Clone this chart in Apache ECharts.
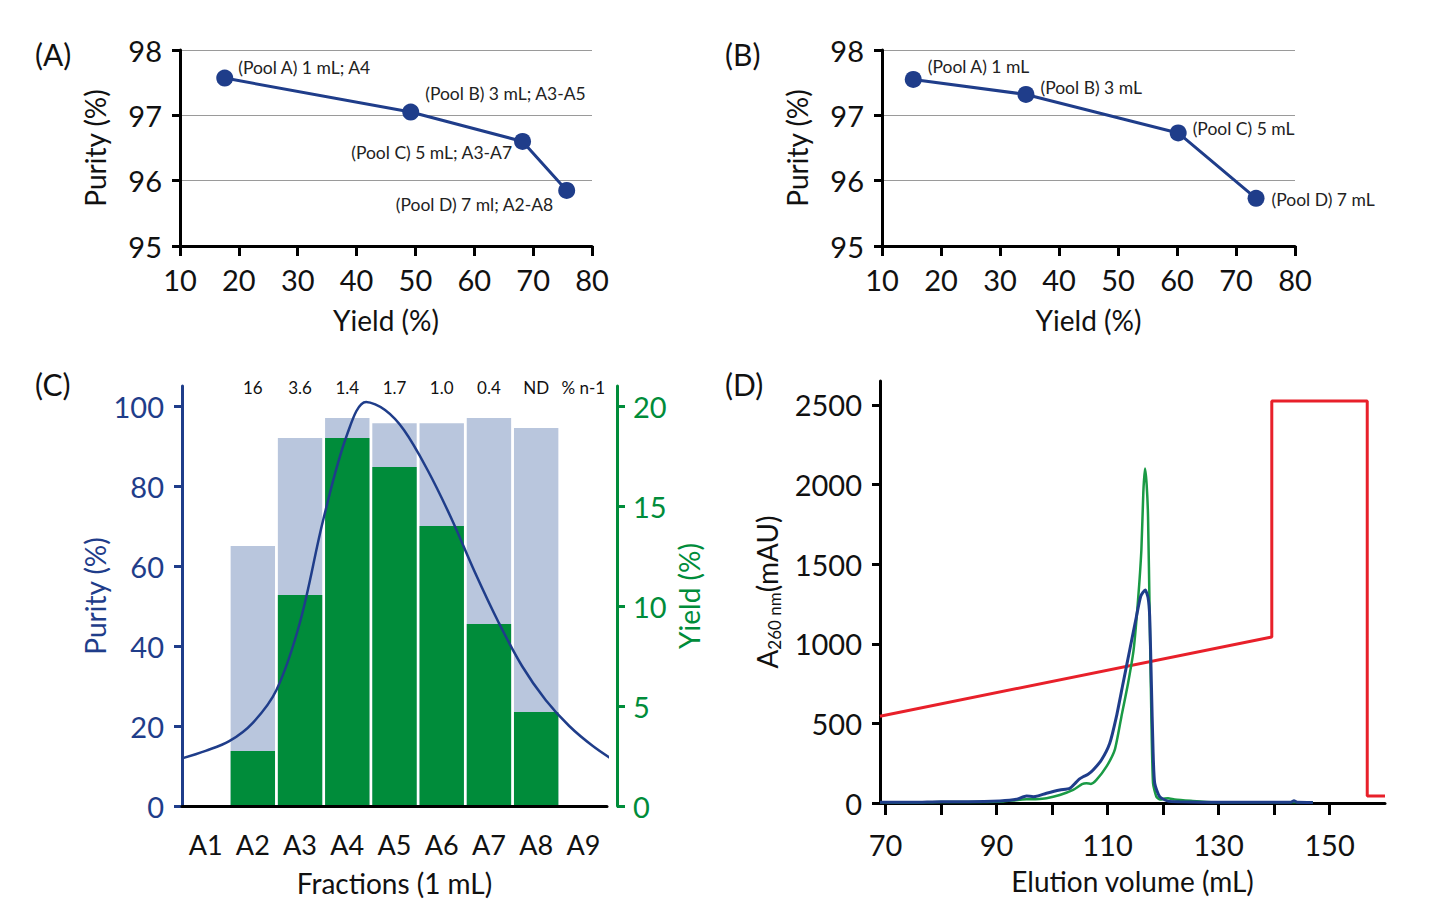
<!DOCTYPE html>
<html>
<head>
<meta charset="utf-8">
<script src="https://cdn.jsdelivr.net/npm/echarts@6/dist/echarts.min.js"></script>
<style>
  html, body { margin: 0; padding: 0; background: #fff; }
  #chart { width: 1448px; height: 906px; }
</style>
</head>
<body>
<div id="chart"></div>
<script>
// ---- data: panel A (yield vs purity per pool) ----
var yieldA = [17.6, 49.2, 68.2, 75.7];
var purityA = [97.57, 97.05, 96.6, 95.85];
var poolLabelsA = ['(Pool A) 1 mL; A4', '(Pool B) 3 mL; A3-A5', '(Pool C) 5 mL; A3-A7', '(Pool D) 7 ml; A2-A8'];

// ---- data: panel B ----
var yieldB = [15.3, 34.4, 60.2, 73.4];
var purityB = [97.55, 97.32, 96.73, 95.73];
var poolLabelsB = ['(Pool A) 1 mL', '(Pool B) 3 mL', '(Pool C) 5 mL', '(Pool D) 7 mL'];

// ---- data: panel C (fractions) ----
var fractions = ['A1', 'A2', 'A3', 'A4', 'A5', 'A6', 'A7', 'A8', 'A9'];
var nMinus1 = ['', '16', '3.6', '1.4', '1.7', '1.0', '0.4', 'ND', '% n-1'];
var fracPurity = [null, 65, 92, 97, 95.7, 95.7, 97, 94.5, null];
var fracYield = [null, 2.75, 10.55, 18.4, 16.95, 14.0, 9.1, 4.7, null];
var curvePos = [0, 0.5, 1, 1.5, 2, 2.5, 3, 3.5, 3.9, 4.3, 4.7, 5.2, 5.7, 6.2, 6.7, 7.2, 7.7, 8.2, 8.7, 9.2];
var curveVal = [11.9, 13.8, 16.2, 20.8, 29, 46, 72, 93, 101, 99, 94, 84, 72, 58.5, 46, 35, 26.5, 20, 15, 11];

// ---- data: panel D (chromatogram) ----
var volGreen = [69, 75, 80, 85, 91.2, 93.5, 95.4, 97, 99, 101.4, 103.8, 105.4, 106.2, 107, 108, 109.8, 111.3, 112.5, 113.7, 114.7, 115.5, 116.1, 116.45, 116.75, 117.05, 117.3, 117.6, 117.9, 118.2, 118.8, 119.5, 120.3, 120.9, 122.1, 125, 129.2, 135, 140, 147];
var absGreen = [4, 3, 6, 6, 10, 18, 23, 24, 30, 50, 82, 118, 124, 120, 145, 228, 333, 542, 752, 961, 1275, 1589, 1950, 2100, 2000, 1798, 1170, 542, 124, 40, 22, 28, 30, 22, 14, 5, 4, 4, 4];
var volBlue = [69, 75, 80, 85, 90.6, 93.6, 95.4, 96.6, 97.5, 99, 101.4, 103.2, 104.2, 104.9, 105.6, 106.5, 107.4, 108.9, 110.4, 111.6, 112.8, 114.0, 115.2, 116.0, 116.8, 117.3, 117.6, 117.9, 118.2, 118.5, 119.4, 120.9, 123, 127, 135, 143, 143.6, 144.2, 147];
var absBlue = [5, 4, 8, 8, 13, 23, 44, 40, 45, 61, 82, 92, 125, 150, 165, 180, 207, 270, 375, 542, 752, 961, 1170, 1300, 1338, 1290, 1170, 752, 333, 124, 40, 12, 8, 5, 4, 4, 14, 4, 3];
var volRed = [69, 139.6, 139.6, 156.8, 156.8, 160];
var condRed = [545, 1043, 2525, 2525, 44, 44];

var navy = '#1f3d8a';
var green = '#008c3a';
var lineGreen = '#1a9a45';
var red = '#e8202a';
var font = 'Lato';
var tickFont = 29;
var nameFont = 28;

function pairs(xs, ys) {
  return xs.map(function(x, i) { return [x, ys[i]]; });
}

var offsA = [[0, -11], [1, -19], [3, 11], [0, 14]];
var posA = ['right', 'right', 'left', 'left'];
var offsB = [[1, -13], [1, -7], [1, -4], [2, 1]];

function poolData(xs, ys, labels, pos, offs) {
  return xs.map(function(x, i) {
    return {
      value: [x, ys[i]],
      label: { position: pos[i], offset: offs[i], formatter: labels[i] }
    };
  });
}

function poolXAxis(gridIndex) {
  return {
    type: 'value', gridIndex: gridIndex, min: 10, max: 80, interval: 10,
    name: 'Yield (%)', nameLocation: 'middle', nameGap: 60,
    nameTextStyle: { fontFamily: font, fontSize: nameFont, color: '#111' },
    axisLine: { lineStyle: { color: '#000', width: 3 } },
    axisTick: { length: 10, lineStyle: { color: '#000', width: 3 } },
    axisLabel: { fontFamily: font, fontSize: tickFont, color: '#111', margin: 19 },
    splitLine: { show: false }
  };
}

function poolYAxis(gridIndex) {
  return {
    type: 'value', gridIndex: gridIndex, min: 95, max: 98, interval: 1,
    name: 'Purity (%)', nameLocation: 'middle', nameGap: 71,
    nameTextStyle: { fontFamily: font, fontSize: nameFont, color: '#111' },
    axisLine: { show: true, lineStyle: { color: '#000', width: 3 } },
    axisTick: { show: true, length: 8, lineStyle: { color: '#000', width: 3 } },
    axisLabel: { fontFamily: font, fontSize: tickFont, color: '#111', margin: 18 },
    splitLine: { show: true, lineStyle: { color: '#9a9a9a', width: 1 } }
  };
}

function poolSeries(idx, xs, ys, labels, pos, offs) {
  return {
    type: 'line', xAxisIndex: idx, yAxisIndex: idx,
    data: poolData(xs, ys, labels, pos, offs),
    symbol: 'circle', symbolSize: 17,
    lineStyle: { color: navy, width: 3 },
    itemStyle: { color: navy },
    label: { show: true, fontFamily: font, fontSize: 17.5, color: '#222', distance: 5 },
    z: 5
  };
}

function panelTitle(text, x, y) {
  return { type: 'text', left: x, top: y, style: { text: text, font: '30px Lato', fill: '#111' } };
}

var chart = echarts.init(document.getElementById('chart'), null, { renderer: 'svg' });
chart.setOption({
  animation: false,
  backgroundColor: '#fff',
  graphic: [
    panelTitle('(A)', 35, 39),
    panelTitle('(B)', 725, 39),
    panelTitle('(C)', 35, 369),
    panelTitle('(D)', 725, 369)
  ],
  grid: [
    { left: 180, top: 50, width: 412, height: 196 },
    { left: 882, top: 50, width: 413, height: 196 },
    { left: 182, top: 386, width: 425, height: 420 },
    { left: 880, top: 381, width: 505, height: 422 }
  ],
  xAxis: [
    poolXAxis(0),
    poolXAxis(1),
    {
      type: 'category', gridIndex: 2, data: fractions,
      name: 'Fractions (1 mL)', nameLocation: 'middle', nameGap: 63,
      nameTextStyle: { fontFamily: font, fontSize: nameFont, color: '#111' },
      axisLine: { lineStyle: { color: '#000', width: 3 } },
      axisTick: { length: 12, lineStyle: { color: '#000', width: 3 } },
      axisLabel: { fontFamily: font, fontSize: 27, color: '#111', margin: 25, interval: 0 },
      z: 6
    },
    { type: 'value', gridIndex: 2, min: 0, max: 9, show: false },
    {
      type: 'category', gridIndex: 2, data: nMinus1, position: 'top', offset: -10,
      axisLine: { show: false }, axisTick: { show: false },
      axisLabel: { fontFamily: font, fontSize: 17, color: '#111', margin: 0, interval: 0 }
    },
    {
      type: 'value', gridIndex: 3, min: 69, max: 160,
      name: 'Elution volume (mL)', nameLocation: 'middle', nameGap: 64,
      nameTextStyle: { fontFamily: font, fontSize: nameFont, color: '#111' },
      axisLine: { lineStyle: { color: '#000', width: 3 } },
      axisTick: { length: 12, lineStyle: { color: '#000', width: 3 }, customValues: [70, 80, 90, 100, 110, 120, 130, 140, 150] },
      axisLabel: { fontFamily: font, fontSize: tickFont, color: '#111', margin: 27, customValues: [70, 90, 110, 130, 150] },
      splitLine: { show: false }
    }
  ],
  yAxis: [
    poolYAxis(0),
    poolYAxis(1),
    {
      type: 'value', gridIndex: 2, min: 0, max: 105,
      name: 'Purity (%)', nameLocation: 'middle', nameGap: 73,
      nameTextStyle: { fontFamily: font, fontSize: nameFont, color: navy },
      axisLine: { show: true, lineStyle: { color: navy, width: 3 } },
      axisTick: { show: true, length: 8, lineStyle: { color: navy, width: 3 }, customValues: [0, 20, 40, 60, 80, 100] },
      axisLabel: { fontFamily: font, fontSize: tickFont, color: navy, margin: 18, customValues: [0, 20, 40, 60, 80, 100] },
      splitLine: { show: false }
    },
    {
      type: 'value', gridIndex: 2, min: 0, max: 21, position: 'right', offset: 10,
      name: 'Yield (%)', nameLocation: 'middle', nameGap: 58,
      nameTextStyle: { fontFamily: font, fontSize: nameFont, color: green },
      axisLine: { show: true, lineStyle: { color: green, width: 3 } },
      axisTick: { show: true, length: 8, lineStyle: { color: green, width: 3 }, customValues: [0, 5, 10, 15, 20] },
      axisLabel: { fontFamily: font, fontSize: tickFont, color: green, margin: 16, customValues: [0, 5, 10, 15, 20] },
      splitLine: { show: false }
    },
    {
      type: 'value', gridIndex: 3, min: 0, max: 2650,
      name: 'A{sub|260 nm}(mAU)', nameLocation: 'middle', nameGap: 97,
      nameTextStyle: {
        fontFamily: font, fontSize: nameFont, color: '#111',
        rich: { sub: { fontFamily: font, fontSize: 17, color: '#111', padding: [16, 0, 0, 0] } }
      },
      axisLine: { show: true, lineStyle: { color: '#000', width: 3 } },
      axisTick: { show: true, length: 8, lineStyle: { color: '#000', width: 3 }, customValues: [0, 500, 1000, 1500, 2000, 2500] },
      axisLabel: {
        fontFamily: font, fontSize: tickFont, color: '#111', margin: 18,
        customValues: [0, 500, 1000, 1500, 2000, 2500],
        formatter: function(v) { return String(v); }
      },
      splitLine: { show: false }
    }
  ],
  series: [
    poolSeries(0, yieldA, purityA, poolLabelsA, posA, offsA),
    poolSeries(1, yieldB, purityB, poolLabelsB, ['right', 'right', 'right', 'right'], offsB),
    {
      type: 'bar', xAxisIndex: 2, yAxisIndex: 2, data: fracPurity,
      itemStyle: { color: '#b9c6dd' }, barCategoryGap: '6%', barGap: '-100%'
    },
    {
      type: 'bar', xAxisIndex: 2, yAxisIndex: 3, data: fracYield,
      itemStyle: { color: green }, barCategoryGap: '6%', barGap: '-100%'
    },
    {
      type: 'line', xAxisIndex: 3, yAxisIndex: 2, data: pairs(curvePos, curveVal),
      smooth: 0.35, showSymbol: false, clip: false, lineStyle: { color: navy, width: 2.5 }, z: 4
    },
    {
      type: 'line', xAxisIndex: 5, yAxisIndex: 4, data: pairs(volRed, condRed),
      showSymbol: false, lineStyle: { color: red, width: 3 }
    },
    {
      type: 'line', xAxisIndex: 5, yAxisIndex: 4, data: pairs(volGreen, absGreen),
      smooth: 0.2, showSymbol: false, lineStyle: { color: lineGreen, width: 2.5 }
    },
    {
      type: 'line', xAxisIndex: 5, yAxisIndex: 4, data: pairs(volBlue, absBlue),
      smooth: 0.2, showSymbol: false, lineStyle: { color: navy, width: 3 }
    }
  ]
});
window.addEventListener('resize', function() { chart.resize(); });
</script>
</body>
</html>
